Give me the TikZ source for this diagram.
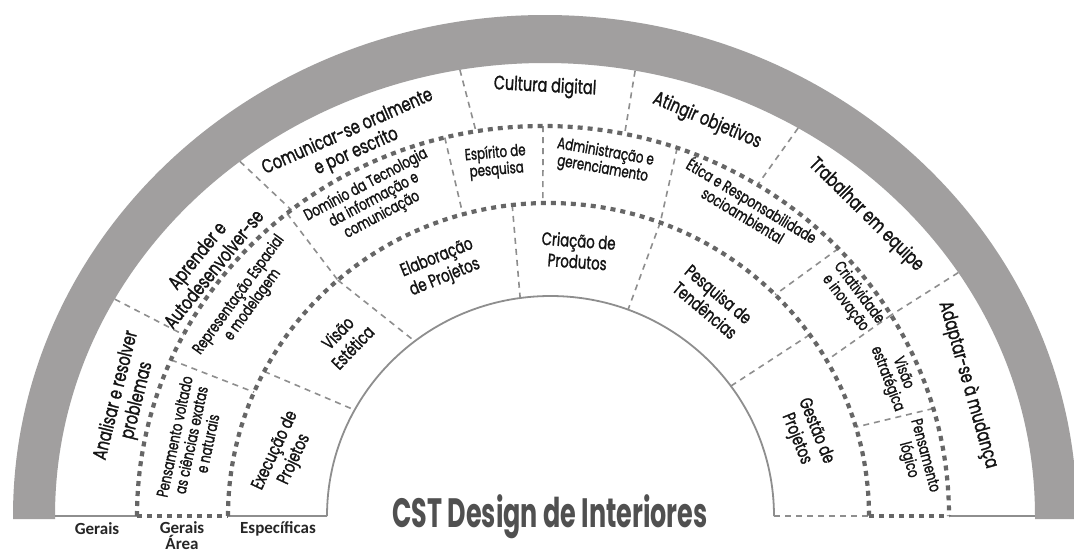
\documentclass[tikz,border=0pt]{standalone}
\usepackage{fontspec}
\newfontfamily\labfont{Poppins}[FakeStretch=0.74,FakeBold=1.3]
\newfontfamily\titlefont{Poppins}[FakeStretch=0.62]
\newfontfamily\basefont{Carlito}
\definecolor{ringgrey}{HTML}{A19F9F}
\definecolor{dotgrey}{HTML}{666666}
\definecolor{divgrey}{HTML}{8E8E8E}
\definecolor{labtext}{HTML}{141414}
\definecolor{titlegrey}{HTML}{505050}
\tikzset{
  divider/.style={draw=divgrey, line width=1.6pt, dash pattern=on 6pt off 5pt},
  dotline/.style={draw=dotgrey, line width=4.2pt, dash pattern=on 5pt off 5pt},
  solidline/.style={draw=divgrey, line width=1.8pt},
  lab/.style={text=labtext, align=center, inner sep=0pt},
  ringone/.style={lab, font=\labfont\fontsize{19.5}{21.5}\selectfont},
  ringtwo/.style={lab, font=\labfont\fontsize{16}{17}\selectfont},
  ringthree/.style={lab, font=\labfont\fontsize{18}{21}\selectfont},
  bottomlab/.style={text=black!85, align=center, inner sep=0pt, font=\basefont\bfseries\fontsize{17}{16.5}\selectfont},
  titlelab/.style={text=titlegrey, inner sep=0pt, font=\titlefont\bfseries\fontsize{41}{41}\selectfont}
}
\begin{document}
\begin{tikzpicture}[x=1pt,y=1pt]
\fill[white] (0,0) rectangle (1074,-554);
\path[use as bounding box] (0,0) rectangle (1074,-554);
\coordinate (G) at (545,-516);
\coordinate (P) at (543,-516);
\coordinate (Q) at (548.5,-516);
\coordinate (R) at (550.5,-516);
% grey ring
\fill[ringgrey] (13,-519) -- (13,-516) arc[start angle=180,end angle=0,x radius=532,y radius=501]
  -- (1077,-519) -- (1035,-519) -- (1035,-516) arc[start angle=0,end angle=180,x radius=490,y radius=453]
  -- (55,-519) -- cycle;
% base lines
\draw[solidline] (55,-516) -- (137,-516);
\draw[solidline] (228,-516) -- (327,-516);
\draw[solidline] (949,-516) -- (1035,-516);
\draw[divider] (774,-516) -- (869,-516);
% inner arc
\draw[solidline] (327,-516) arc[start angle=180,end angle=0,x radius=223.5,y radius=220];
% ring 1 dividers
\foreach \a/\b in {151.4/152.3, 128.5/128.3, 100.0/99.5, 79.4/78.4, 58.9/58.1, 32.5/31.0}
  \draw[divider] ([shift={(\a:490 and 453)}]G) -- ([shift={(\b:406 and 390)}]P);
% ring 2 dividers
\foreach \a/\b in {156.4/156.7, 129.1/131.1, 104.0/105.5, 90.0/91.0, 70.7/69.6, 43.3/45.0, 31.0/29.8, 16.0/16.5}
  \draw[divider] ([shift={(\a:406 and 390)}]P) -- ([shift={(\b:320.5 and 313)}]Q);
% ring 3 dividers
\foreach \a/\b in {152.5/151.2, 131.1/127.4, 96.5/97.8, 69.6/69.7, 35.4/36.2}
  \draw[divider] ([shift={(\a:320.5 and 313)}]Q) -- ([shift={(\b:223.5 and 220)}]R);
% thick dotted rings
\draw[dotline] (137,-516) arc[start angle=180,end angle=0,x radius=406,y radius=390];
\draw[dotline] (228,-516) arc[start angle=180,end angle=0,x radius=320.5,y radius=313];
\draw[dotline] (137,-516) -- (228,-516);
\draw[dotline] (869,-516) -- (949,-516);
% ring 1 labels
\node[ringone, rotate=76] (l1a) at (127,-398) {Analisar e resolver\\problemas};
\node[ringone, rotate=51] (l1b) at (205,-262) {Aprender e\\Autodesenvolver-se};
\node[ringone, rotate=24] (l1c) at (352,-142) {Comunicar-se oralmente\\e por escrito};
\node[ringone, rotate=-3] (l1d) at (545,-87) {Cultura digital};
\node[ringone, rotate=-23] (l1e) at (707,-121) {Atingir objetivos};
\node[ringone, rotate=-44.5] (l1f) at (866,-215) {Trabalhar em equipe};
\node[ringone, rotate=-74] (l1g) at (968,-385) {Adaptar-se à mudança};
% ring 2 labels
\node[ringtwo, rotate=78] (l2a) at (191,-440) {Pensamento voltado\\as ciências exatas\\e naturais};
\node[ringtwo, rotate=54] (l2b) at (246,-300) {Representação Espacial\\e modelagem};
\node[ringtwo, rotate=28] (l2c) at (374,-200) {Domínio da Tecnologia\\da informação e\\comunicação};
\node[ringtwo, rotate=5] (l2d) at (496,-162) {Espírito de\\pesquisa};
\node[ringtwo, rotate=-10] (l2e) at (604,-161) {Administração e\\gerenciamento};
\node[ringtwo, rotate=-31] (l2f) at (748,-207) {Ética e Responsabilidade\\socioambiental};
\node[ringtwo, rotate=-53] (l2g) at (852,-298) {Criatividade\\e inovação};
\node[ringtwo, rotate=-69] (l2h) at (895,-376) {Visão\\estratégica};
\node[ringtwo, rotate=-75] (l2i) at (916,-458) {Pensamento\\lógico};
% ring 3 labels
\node[ringthree, rotate=65] (l3a) at (285,-455) {Execução de\\Projetos};
\node[ringthree, rotate=46] (l3b) at (345,-340) {Visão\\Estética};
\node[ringthree, rotate=22] (l3c) at (441,-268) {Elaboração\\de Projetos};
\node[ringthree, rotate=-4] (l3d) at (578,-251) {Criação de\\Produtos};
\node[ringthree, rotate=-40] (l3e) at (712,-302) {Pesquisa de\\Tendências};
\node[ringthree, rotate=-68] (l3f) at (806,-435) {Gestão de\\Projetos};
% title and bottom labels
\node[titlelab, anchor=base] (title) at (550,-527) {CST Design de Interiores};
\node[bottomlab] (bg) at (97,-529) {Gerais};
\node[bottomlab, anchor=north] (bga) at (182,-521) {Gerais\\Área};
\node[bottomlab] (be) at (278,-529) {Específicas};
\end{tikzpicture}
\end{document}
